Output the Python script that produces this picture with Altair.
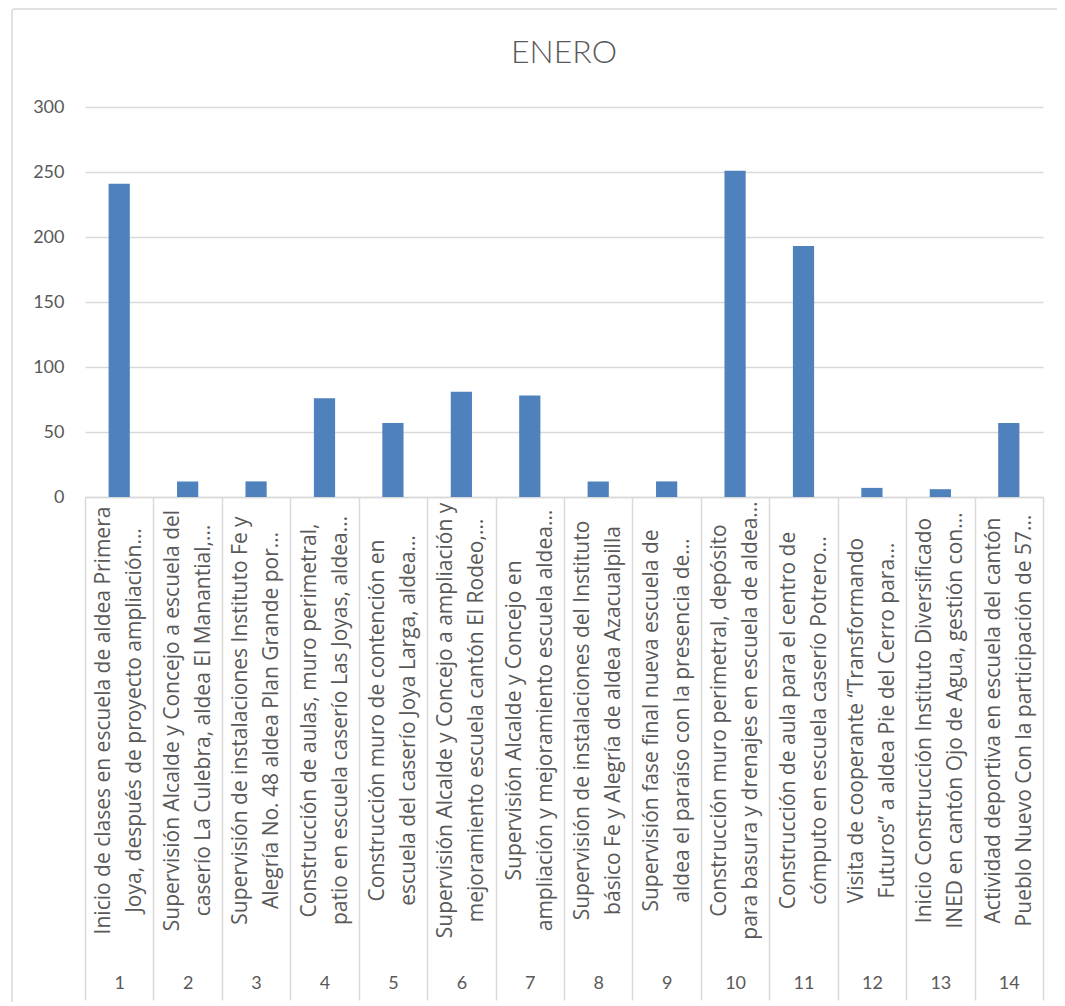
import json
import altair as alt
import pandas as pd

# --- data ---
numbers = list(range(1, 15))
values = [241, 12, 12, 76, 57, 81, 78, 12, 12, 251, 193, 7, 6, 57]

desc_top = [
    "Inicio de clases en escuela de aldea Primera",
    "Supervisión Alcalde y Concejo a escuela del",
    "Supervisión de instalaciones Instituto Fe y",
    "Construcción de aulas, muro perimetral,",
    "Construcción muro de contención en",
    "Supervisión Alcalde y Concejo a ampliación y",
    "Supervisión Alcalde y Concejo en",
    "Supervisión de instalaciones del Instituto",
    "Supervisión  fase final nueva escuela de",
    "Construcción muro perimetral, depósito",
    "Construcción de aula para el centro de",
    "Visita de  cooperante “Transformando",
    "Inicio Construcción Instituto Diversificado",
    "Actividad deportiva en escuela del cantón",
]
desc_bottom = [
    "Joya, después de proyecto ampliación…",
    "caserío La Culebra, aldea El Manantial,…",
    "Alegría No. 48 aldea Plan Grande por…",
    "patio en escuela caserío Las Joyas, aldea…",
    "escuela del caserío Joya Larga, aldea…",
    "mejoramiento escuela cantón El Rodeo,…",
    "ampliación y mejoramiento escuela aldea…",
    "básico  Fe y Alegría de aldea Azacualpilla",
    "aldea el paraíso con la presencia de…",
    "para basura y drenajes en escuela de aldea…",
    "cómputo en escuela caserío Potrero…",
    "Futuros” a aldea Pie del Cerro para…",
    "INED en cantón Ojo de Agua, gestión con…",
    "Pueblo Nuevo Con la participación de 57…",
]
y_ticks = [0, 50, 100, 150, 200, 250, 300]

df = pd.DataFrame({"num": numbers, "valor": values})

label_texts = [a + "|" + b for a, b in zip(desc_top, desc_bottom)]
label_expr = (
    "split(" + json.dumps(label_texts, ensure_ascii=False)
    + "[toNumber(datum.value) - 1], '|')"
)

FONT = "Lato"
LABEL_FONT = "Open Sans"
TXT = "#595959"
GRID = "#d9d9d9"

x_scale = alt.Scale(paddingInner=0, paddingOuter=0)

# chart-area frame (decorative, like the Excel chart border)
frame = alt.Chart(alt.Data(values=[{}])).mark_rect(
    fill=None, stroke=GRID, strokeWidth=1.5, cornerRadius=3
).encode(
    x=alt.value(-73), x2=alt.value(976),
    y=alt.value(-98), y2=alt.value(920),
)

bars = alt.Chart(df).mark_bar(
    color="#4f81bd", width=alt.RelativeBandSize(0.31)
).encode(
    x=alt.X(
        "num:O",
        scale=x_scale,
        axis=alt.Axis(
            title=None,
            orient="bottom",
            labelExpr=label_expr,
            labelAngle=270,
            labelAlign="center",
            labelBaseline="middle",
            labelPadding=223,
            labelOffset=-15,
            labelLineHeight=31,
            labelFont=LABEL_FONT,
            labelFontSize=21,
            labelColor=TXT,
            labelLimit=1000,
            labelOverlap=False,
            ticks=False,
            domainColor=GRID,
            domainWidth=1.5,
        ),
    ),
    y=alt.Y(
        "valor:Q",
        scale=alt.Scale(domain=[0, 300]),
        axis=alt.Axis(
            title=None,
            values=y_ticks,
            domain=False,
            ticks=False,
            gridColor=GRID,
            gridWidth=1.5,
            labelPadding=21,
            labelFont=FONT,
            labelFontSize=18,
            labelColor=TXT,
        ),
    ),
)

numbers_layer = alt.Chart(df).mark_bar(opacity=0).encode(
    x=alt.X(
        "num:O",
        scale=x_scale,
        axis=alt.Axis(
            title=None,
            orient="bottom",
            labelAngle=0,
            labelAlign="center",
            labelBaseline="middle",
            labelPadding=-17,
            tickBand="extent",
            tickSize=503,
            tickColor=GRID,
            tickWidth=1.5,
            domain=False,
            labelFont=FONT,
            labelFontSize=18,
            labelColor=TXT,
        ),
    ),
)

chart = (
    alt.layer(bars, numbers_layer, frame)
    .resolve_axis(x="independent")
    .properties(
        width=958,
        height=390,
        title=alt.TitleParams(
            "ENERO", font=FONT, fontSize=32, fontWeight=300, color=TXT,
            anchor="middle", offset=-62,
        ),
        padding={"left": 77, "top": 99, "right": 14, "bottom": 505},
        autosize=alt.AutoSizeParams(type="none"),
    )
    .configure_view(stroke=None)
)

chart.save("out.html", embed_options={"renderer": "svg", "actions": False})
